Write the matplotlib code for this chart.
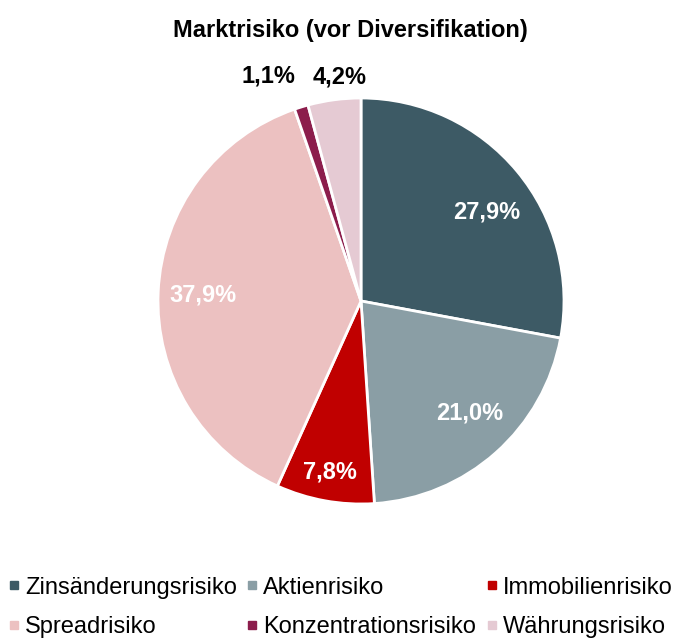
import numpy as np
import matplotlib
matplotlib.use('Agg')
import matplotlib.pyplot as plt
from matplotlib.lines import Line2D

categories = ['Zinsänderungsrisiko', 'Aktienrisiko', 'Immobilienrisiko',
              'Spreadrisiko', 'Konzentrationsrisiko', 'Währungsrisiko']
values = [27.9, 21.0, 7.8, 37.9, 1.1, 4.2]
labels = ['27,9%', '21,0%', '7,8%', '37,9%', '1,1%', '4,2%']

colors = ['#3d5a65', '#8a9ea5', '#c00000', '#ecc1c1', '#8c1d4c', '#e5cad3']
label_colors = ['white', 'white', 'white', 'white', 'black', 'black']
# label placement: radius (pie radii) and angle shift from wedge middle (deg)
label_radius = [0.756, 0.77, 0.855, 0.78, 1.2, 1.11]
label_shift = [-4.4, 2.4, 0, 0.5, 5.3, -2.0]

plt.rcParams['font.family'] = ['Liberation Sans', 'DejaVu Sans']

W, H = 678, 642
fig = plt.figure(figsize=(W / 100, H / 100), dpi=100)
cx, cy, r = 361, 301, 203
ax = fig.add_axes([(cx - r) / W, (H - cy - r) / H, 2 * r / W, 2 * r / H])

wedges, _ = ax.pie(values, colors=colors, startangle=90, counterclock=False,
                   wedgeprops=dict(edgecolor='white', linewidth=2))
ax.set_xlim(-1, 1)
ax.set_ylim(-1, 1)
ax.set_aspect('equal')
ax.axis('off')

for w, lab, col, rr, sh in zip(wedges, labels, label_colors, label_radius, label_shift):
    ang = np.deg2rad((w.theta1 + w.theta2) / 2 + sh)
    ax.text(rr * np.cos(ang), rr * np.sin(ang), lab, color=col, fontsize=17,
            fontweight='bold', ha='center', va='center', clip_on=False)

fig.text(350 / W, 1 - 30 / H, 'Marktrisiko (vor Diversifikation)', ha='center', va='center',
         fontsize=17, fontweight='bold')

handles = [Line2D([], [], marker='s', linestyle='none', markersize=5.5,
                  markerfacecolor=c, markeredgecolor=c) for c in colors]
order = [0, 3, 1, 4, 2, 5]
fig.legend([handles[i] for i in order], [categories[i] for i in order],
           loc='lower left', bbox_to_anchor=(-0.009, -0.016), ncol=3, frameon=False,
           prop={'size': 17}, handlelength=0.5, handletextpad=0.22,
           columnspacing=0.4, labelspacing=0.74, borderaxespad=0.2)

fig.savefig('out.png', dpi=100)
